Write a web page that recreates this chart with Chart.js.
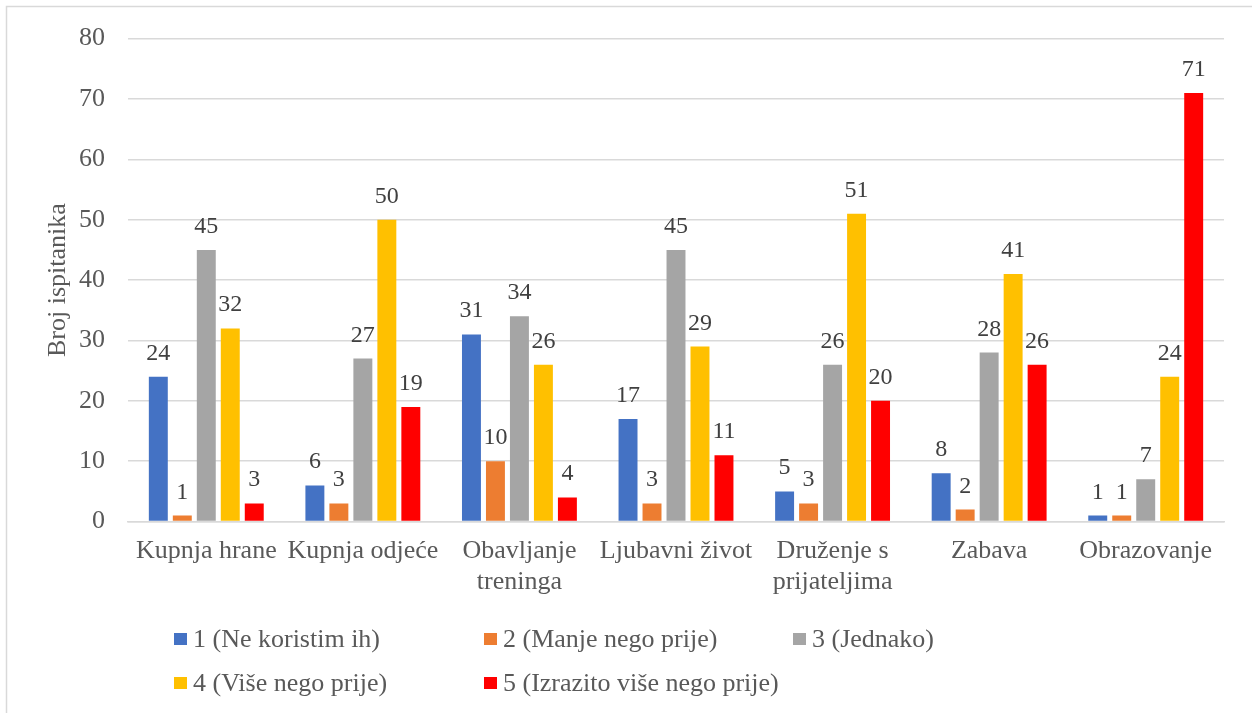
<!DOCTYPE html>
<html>
<head>
<meta charset="utf-8">
<script src="https://cdn.jsdelivr.net/npm/chart.js@4.4.1/dist/chart.umd.min.js"></script>
<style>
  html, body { margin: 0; padding: 0; background: #fff; }
  #wrap { position: relative; width: 1252px; height: 713px; overflow: hidden; }
  #c { position: absolute; left: 0; top: 0; }
  .lg { position: absolute; font-family: "Liberation Serif", "Times New Roman", serif; font-size: 26px; color: #595959; line-height: 30px; white-space: nowrap; }
  .bx { position: absolute; width: 13px; height: 12px; }
</style>
</head>
<body>
<div id="wrap">
  <canvas id="c" width="1252" height="713"></canvas>
  <div id="legend"></div>
</div>
<script>
const categories = ["Kupnja hrane", "Kupnja odjeće", ["Obavljanje", "treninga"], "Ljubavni život", ["Druženje s", "prijateljima"], "Zabava", "Obrazovanje"];
const seriesNames = ["1 (Ne koristim ih)", "2 (Manje nego prije)", "3 (Jednako)", "4 (Više nego prije)", "5 (Izrazito više nego prije)"];
const s1 = [24, 6, 31, 17, 5, 8, 1];
const s2 = [1, 3, 10, 3, 3, 2, 1];
const s3 = [45, 27, 34, 45, 26, 28, 7];
const s4 = [32, 50, 26, 29, 51, 41, 24];
const s5 = [3, 19, 4, 11, 20, 26, 71];
const colors = ["#4472C4", "#ED7D31", "#A5A5A5", "#FFC000", "#FF0000"];
const yTicks = { min: 0, max: 80, step: 10 };
const axisTitle = "Broj ispitanika";

const FONT = '"Liberation Serif", "Times New Roman", serif';
const allSeries = [s1, s2, s3, s4, s5];

const borderPlugin = {
  id: 'outerBorder',
  beforeDraw(chart) {
    const ctx = chart.ctx;
    ctx.save();
    ctx.fillStyle = '#fff';
    ctx.fillRect(0, 0, chart.width, chart.height);
    ctx.strokeStyle = '#d9d9d9';
    ctx.lineWidth = 1.5;
    ctx.strokeRect(6.5, 6.5, 1300, 800);
    ctx.restore();
  }
};

const labelPlugin = {
  id: 'valueLabels',
  afterDatasetsDraw(chart) {
    const ctx = chart.ctx;
    ctx.save();
    ctx.font = '24px ' + FONT;
    ctx.fillStyle = '#404040';
    ctx.textAlign = 'center';
    ctx.textBaseline = 'alphabetic';
    chart.data.datasets.forEach((ds, i) => {
      const meta = chart.getDatasetMeta(i);
      meta.data.forEach((el, j) => {
        ctx.fillText(String(ds.data[j]), el.x, el.y - 17);
      });
    });
    ctx.restore();
  }
};

new Chart(document.getElementById('c'), {
  type: 'bar',
  data: {
    labels: categories,
    datasets: allSeries.map((d, i) => ({
      label: seriesNames[i],
      data: d,
      backgroundColor: colors[i],
      borderWidth: 0,
      categoryPercentage: 0.766,
      barPercentage: 0.79
    }))
  },
  options: {
    responsive: false,
    animation: false,
    devicePixelRatio: 1,
    layout: { padding: { top: 32, right: 28, bottom: 101, left: 0 } },
    plugins: {
      legend: { display: false },
      tooltip: { enabled: false }
    },
    scales: {
      x: {
        grid: { display: false, drawTicks: false },
        border: { display: true, color: '#d9d9d9', width: 1.5 },
        ticks: {
          color: '#595959',
          font: { family: FONT, size: 26 },
          padding: 14,
          maxRotation: 0,
          autoSkip: false
        }
      },
      y: {
        min: yTicks.min,
        max: yTicks.max,
        afterFit(scale) { scale.width = 128; },
        grid: { color: '#d9d9d9', lineWidth: 1.5, drawTicks: false },
        border: { display: false },
        ticks: {
          stepSize: yTicks.step,
          color: '#595959',
          font: { family: FONT, size: 26 },
          padding: 23
        },
        title: {
          display: true,
          text: axisTitle,
          color: '#595959',
          font: { family: FONT, size: 26 },
          padding: { top: 43, bottom: 0 }
        }
      }
    }
  },
  plugins: [borderPlugin, labelPlugin]
});

// Legend (grid-aligned as in the reference)
const legendPos = [
  { x: 174, y: 624 }, { x: 484, y: 624 }, { x: 793, y: 624 },
  { x: 174, y: 668 }, { x: 484, y: 668 }
];
const lg = document.getElementById('legend');
seriesNames.forEach((name, i) => {
  const p = legendPos[i];
  const b = document.createElement('div');
  b.className = 'bx';
  b.style.left = p.x + 'px';
  b.style.top = (p.y + 9) + 'px';
  b.style.background = colors[i];
  lg.appendChild(b);
  const t = document.createElement('div');
  t.className = 'lg';
  t.style.left = (p.x + 19) + 'px';
  t.style.top = p.y + 'px';
  t.textContent = name;
  lg.appendChild(t);
});
</script>
</body>
</html>
